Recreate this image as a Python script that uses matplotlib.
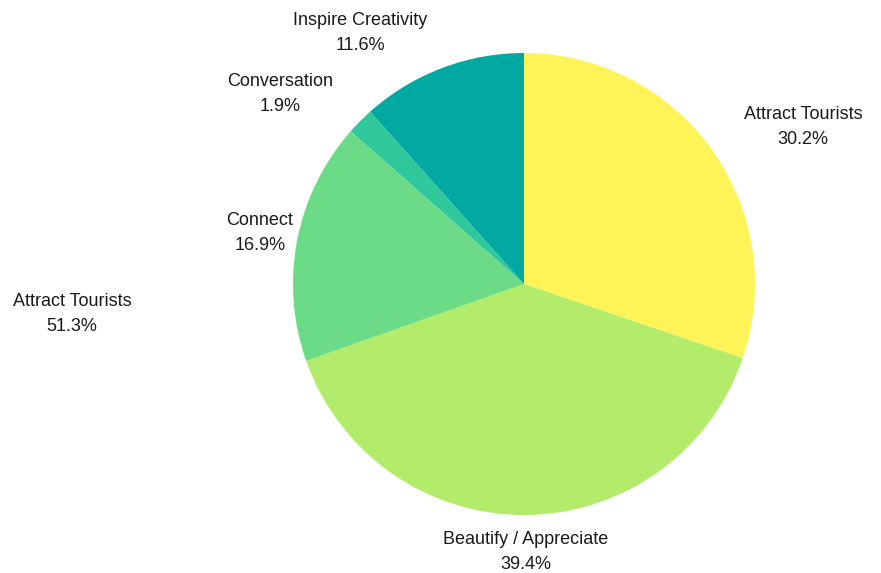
import matplotlib.pyplot as plt

## Slice data (clockwise from 12 o'clock)
categories = ['Attract Tourists', 'Beautify / Appreciate', 'Connect', 'Conversation', 'Inspire Creativity']
shares = [30.2, 39.4, 16.9, 1.9, 11.6]
colors = ['#FFF457', '#B3EB6A', '#6CDB88', '#2EC89A', '#02A9A3']

## Stray label that sits left of the pie with no slice of its own
extra_label = 'Attract Tourists'
extra_share = 51.3

## label anchor positions, in pixels from top-left
label_pos = [(803, 127), (526, 552), (260, 233), (280, 94), (360, 33)]
extra_pos = (72, 314)

W, H = 881, 573
fig = plt.figure(figsize=(W / 100, H / 100), dpi=100)
ax = fig.add_axes([0, 0, 1, 1])

cx, cy, r = 524, H - 284, 231
ax.pie(shares, colors=colors, startangle=90, counterclock=False,
       center=(cx, cy), radius=r, frame=True,
       wedgeprops={'linewidth': 0})
ax.set_xlim(0, W)
ax.set_ylim(0, H)
ax.axis('off')

fonts = ['Liberation Sans', 'DejaVu Sans']
for name, val, (x, y) in zip(categories, shares, label_pos):
    ax.text(x, H - y, name + '\n' + '%.1f%%' % val, ha='center', va='center',
            fontsize=13, color='#1a1a1a', linespacing=1.55, family=fonts)
ax.text(extra_pos[0], H - extra_pos[1], extra_label + '\n' + '%.1f%%' % extra_share,
        ha='center', va='center', fontsize=13, color='#1a1a1a', linespacing=1.55,
        family=fonts)

fig.savefig('out.png', dpi=100)
